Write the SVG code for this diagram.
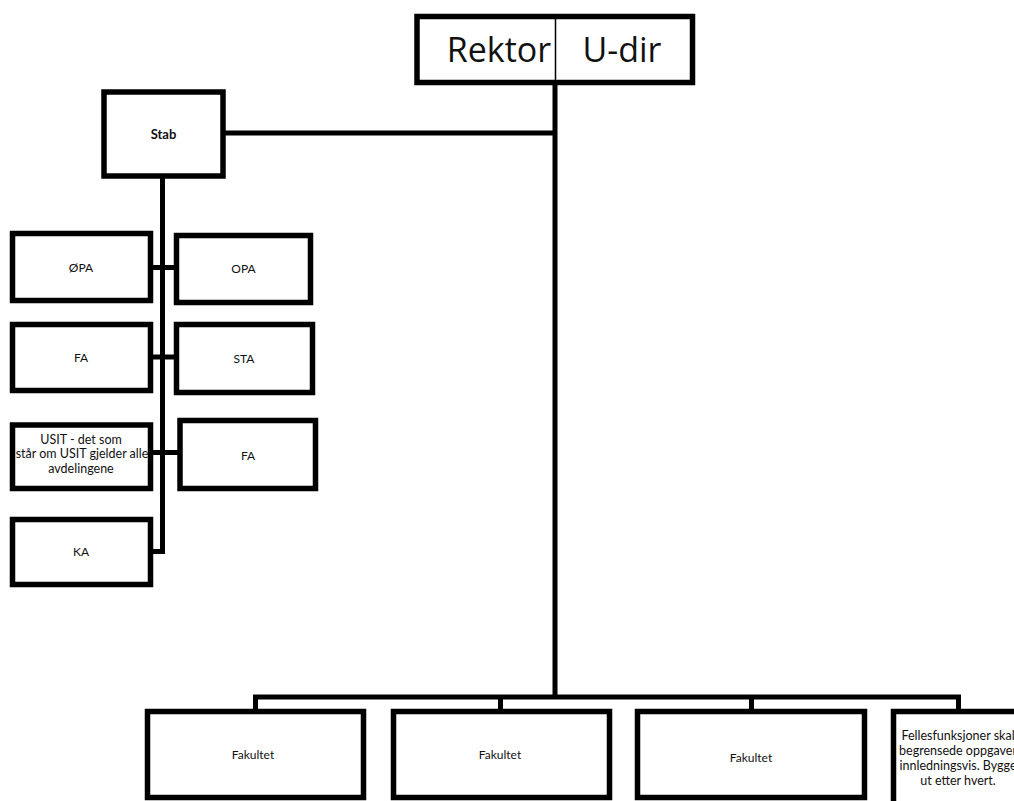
<svg xmlns="http://www.w3.org/2000/svg" width="1014" height="801" viewBox="0 0 1014 801">
<style>
.box{fill:#fff;stroke:#000;stroke-width:5.5;stroke-linejoin:miter}
.thin{fill:none;stroke:#000;stroke-width:1.5}
.con{fill:none;stroke:#000;stroke-width:5;stroke-linejoin:miter;stroke-linecap:butt}
.t{font-family:Lato,"Open Sans","Liberation Sans",sans-serif;font-size:12px;fill:#111;text-anchor:middle;dominant-baseline:central}
.m{font-size:12.5px}
.big{font-family:"Open Sans",Lato,"Liberation Sans",sans-serif;font-size:34px;fill:#111;text-anchor:middle}
.b{font-weight:bold;font-size:13px}
</style>
<rect width="1014" height="801" fill="#fff"/>
<g id="connectors">
<path class="con" d="M555 82 V697"/>
<path class="con" d="M223 133 H557"/>
<path class="con" d="M162.5 176 V551.5 H150"/>
<path class="con" d="M150 267.5 H177"/>
<path class="con" d="M150 357 H177"/>
<path class="con" d="M150 452.5 H180"/>
<path class="con" d="M255.5 712 V697 H958.5 V712"/>
<path class="con" d="M500.5 697 V712"/>
<path class="con" d="M751.5 697 V712"/>
</g>
<g id="rektor">
<rect class="box" x="417" y="16.5" width="275.5" height="66"/>
<line class="thin" x1="555.5" y1="16.5" x2="555.5" y2="82.5"/>
<text class="big" x="499" y="62">Rektor</text>
<text class="big" x="622" y="62">U-dir</text>
</g>
<g id="stab">
<rect class="box" x="104" y="92" width="119" height="84"/>
<text class="t b" x="163.5" y="134">Stab</text>
</g>
<g id="opa-oe">
<rect class="box" x="12.5" y="233.5" width="138" height="67"/>
<text class="t" x="81" y="267">ØPA</text>
</g>
<g id="opa">
<rect class="box" x="176.5" y="235.5" width="134" height="67"/>
<text class="t" x="243.5" y="268">OPA</text>
</g>
<g id="fa1">
<rect class="box" x="12.5" y="324.5" width="138" height="66"/>
<text class="t" x="81" y="357">FA</text>
</g>
<g id="sta">
<rect class="box" x="176.5" y="324.5" width="136" height="68"/>
<text class="t" x="244" y="358">STA</text>
</g>
<g id="usit">
<rect class="box" x="12.5" y="425" width="138" height="63.5"/>
<text class="t m" x="81" y="439">USIT  - det som</text>
<text class="t m" x="82" y="453.5">står om USIT gjelder alle</text>
<text class="t m" x="81" y="468">avdelingene</text>
</g>
<g id="fa2">
<rect class="box" x="180" y="420.5" width="135.5" height="68"/>
<text class="t" x="248" y="455">FA</text>
</g>
<g id="ka">
<rect class="box" x="12.5" y="519.5" width="138" height="65"/>
<text class="t" x="81" y="551">KA</text>
</g>
<g id="fakultet1">
<rect class="box" x="147.5" y="711.5" width="216" height="86"/>
<text class="t" x="253" y="754">Fakultet</text>
</g>
<g id="fakultet2">
<rect class="box" x="393.5" y="711.5" width="216" height="86"/>
<text class="t" x="500" y="754">Fakultet</text>
</g>
<g id="fakultet3">
<rect class="box" x="637.5" y="711.5" width="227" height="86"/>
<text class="t" x="751" y="757">Fakultet</text>
</g>
<g id="felles">
<rect class="box" x="893.5" y="711.5" width="140" height="110"/>
<text class="t m" x="958" y="735">Fellesfunksjoner skal</text>
<text class="t m" x="958" y="750">begrensede oppgaver</text>
<text class="t m" x="958" y="765">innledningsvis. Bygge</text>
<text class="t m" x="958" y="780">ut etter hvert.</text>
</g>
</svg>
